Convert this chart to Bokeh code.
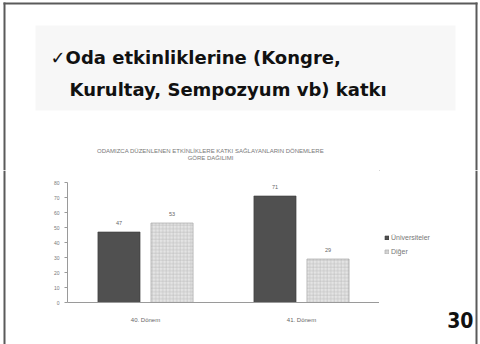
from bokeh.plotting import figure
from bokeh.layouts import column, row
from bokeh.models import (ColumnDataSource, LabelSet, Legend, LegendItem,
                          FixedTicker, Range1d)
from bokeh.transform import dodge
from bokeh.core.properties import value
from bokeh.embed import file_html
from bokeh.resources import INLINE

# Data
categories = ["40. Dönem", "41. Dönem"]
series_names = ["Üniversiteler", "Diğer"]
universite = [47, 71]
diger = [53, 29]
y_ticks = [0, 10, 20, 30, 40, 50, 60, 70, 80]

heading_1 = "\u2713Oda etkinliklerine (Kongre,"
heading_2 = "Kurultay, Sempozyum vb) katkı"
chart_title_1 = "ODAMIZCA DÜZENLENEN ETKİNLİKLERE KATKI SAĞLAYANLARIN DÖNEMLERE"
chart_title_2 = "GÖRE DAĞILIMI"
page_no = "30"

W = 480
TOP_H = 170
BOT_H = 174
STRIP = 6
FRAME_RIGHT = 379
FRAME_COLOR = "#5a5a5a"
DARK = dict(fill_color="#505050", line_color="#3a3a3a", line_width=0.6)
LIGHT = dict(fill_color="#e4e4e4", line_color="#9a9a9a", line_width=0.6,
             hatch_pattern="+", hatch_color="#bdbdbd", hatch_scale=3.5,
             hatch_weight=0.6)


def pixel_canvas(width, height):
    """A figure whose data space is its own pixel grid (y downwards)."""
    f = figure(width=width, height=height, x_range=Range1d(0, width),
               y_range=Range1d(height, 0), output_backend="svg",
               toolbar_location=None, min_border=0,
               x_axis_type=None, y_axis_type=None, frame_align=False)
    f.outline_line_color = None
    f.xgrid.grid_line_color = None
    f.ygrid.grid_line_color = None
    return f


# ---- slide heading + chart title ----
head = pixel_canvas(W, TOP_H)
head.quad(left=[35], right=[455], top=[25], bottom=[110],
          fill_color="#f7f7f7", line_color=None)
head.segment(x0=[4, 476, 3], y0=[2, 2, 3], x1=[4, 476, 477], y1=[TOP_H, TOP_H, 3],
             line_color=FRAME_COLOR, line_width=2)
head.text(x=[50, 69], y=[57, 89], text=[heading_1, heading_2],
          text_font=value("DejaVu Sans"), text_font_style="bold",
          text_font_size="18px", text_color="#111111",
          text_baseline="alphabetic")
head.text(x=[210, 210], y=[150, 157], text=[chart_title_1, chart_title_2],
          text_font=value("Liberation Sans"), text_font_size="6px",
          text_color="#777777", text_align="center",
          text_baseline="middle")

# left strip carrying the slide frame down
strip_l = pixel_canvas(STRIP, BOT_H)
strip_l.segment(x0=[4], y0=[0], x1=[4], y1=[BOT_H], line_color=FRAME_COLOR,
                line_width=2)

# ---- bar chart ----
src = ColumnDataSource(dict(
    cat=categories,
    uni=universite,
    dig=diger,
    uni_txt=[str(v) for v in universite],
    dig_txt=[str(v) for v in diger],
))

p = figure(width=FRAME_RIGHT - STRIP, height=BOT_H, x_range=categories,
           y_range=(0, 80), output_backend="svg", toolbar_location=None,
           min_border_left=67 - STRIP, min_border_right=0,
           min_border_top=12, min_border_bottom=42, frame_align=False)
p.outline_line_color = None
p.xgrid.grid_line_color = None
p.ygrid.grid_line_color = None

p.vbar(x=dodge("cat", -0.17, range=p.x_range), top="uni", width=0.27,
       source=src, **DARK)
p.vbar(x=dodge("cat", 0.17, range=p.x_range), top="dig", width=0.27,
       source=src, **LIGHT)

# value labels over the bars
for col, txt, off in (("uni", "uni_txt", -0.17), ("dig", "dig_txt", 0.17)):
    p.add_layout(LabelSet(x=dodge("cat", off, range=p.x_range), y=col,
                          text=txt, source=src, y_offset=7,
                          text_align="center", text_baseline="bottom",
                          text_font_size="5.5px", text_color="#666666",
                          text_font=value("Liberation Sans")))

# axes
p.yaxis.ticker = FixedTicker(ticks=y_ticks)
p.yaxis.minor_tick_line_color = None
p.yaxis.major_tick_out = 3
p.yaxis.major_tick_in = 0
p.yaxis.axis_line_color = "#9a9a9a"
p.yaxis.major_tick_line_color = "#9a9a9a"
p.yaxis.major_label_text_font_size = "5px"
p.yaxis.major_label_text_color = "#777777"
p.yaxis.major_label_standoff = 5
p.xaxis.axis_line_color = "#9a9a9a"
p.xaxis.major_tick_line_color = None
p.xaxis.major_label_text_font_size = "6px"
p.xaxis.major_label_text_color = "#666666"
p.xaxis.major_label_standoff = 8

# ---- right side: legend, page number, slide frame ----
side = pixel_canvas(W - FRAME_RIGHT, BOT_H)
side.segment(x0=[97], y0=[0], x1=[97], y1=[BOT_H], line_color=FRAME_COLOR,
             line_width=2)
# legend keys: one off-canvas bar each, styled like the series
key_uni = side.vbar(x=[-500], top=[-500], width=1, **DARK)
key_dig = side.vbar(x=[-500], top=[-500], width=1, **LIGHT)
legend = Legend(items=[LegendItem(label=series_names[0], renderers=[key_uni]),
                       LegendItem(label=series_names[1], renderers=[key_dig])],
                location=(5, 89), glyph_width=5, glyph_height=5,
                label_text_font_size="7px", label_text_color="#777777",
                label_height=6, label_standoff=2, spacing=7, padding=0,
                margin=0, border_line_color=None, background_fill_alpha=0)
side.add_layout(legend, "center")
side.text(x=[94], y=[149], text=[page_no],
          text_font=value("'Liberation Sans Narrow', 'DejaVu Sans Condensed', sans-serif"),
          text_font_style="bold", text_font_size="21px", text_color="#111111",
          text_align="right", text_baseline="alphabetic")

slide = column(head, row(strip_l, p, side, spacing=0), spacing=0)

open("out.html", "w").write(file_html(slide, INLINE))
